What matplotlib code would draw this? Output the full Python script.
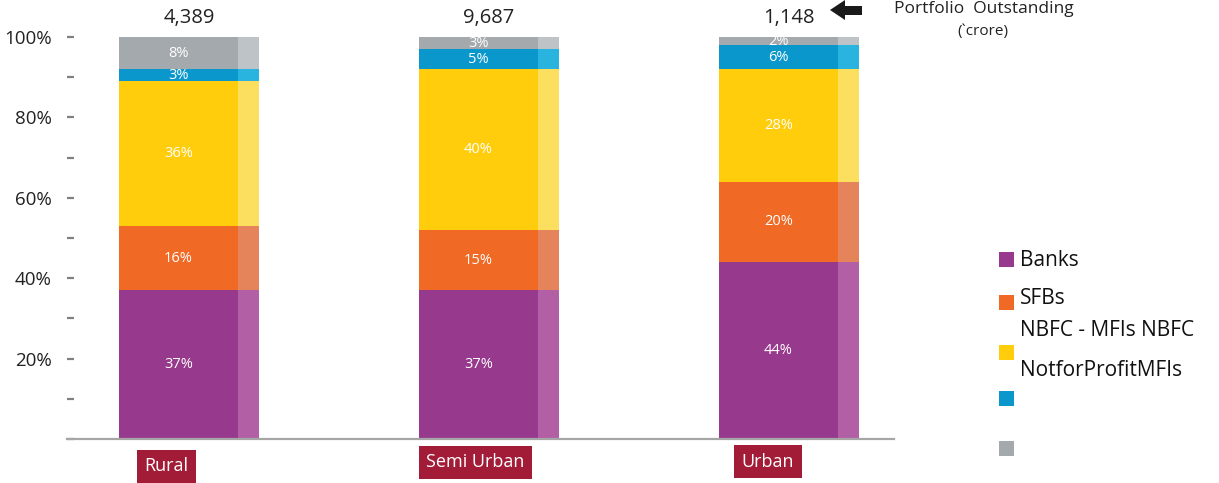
import matplotlib
matplotlib.use("Agg")
import matplotlib.pyplot as plt
from matplotlib.patches import Rectangle, Polygon
from matplotlib import transforms
import numpy as np

plt.rcParams['font.family'] = ['Open Sans', 'DejaVu Sans']

# data
categories = ['Rural', 'Semi Urban', 'Urban']
totals = ['4,389', '9,687', '1,148']
series = ['Banks', 'SFBs', 'NBFC - MFIs NBFC', 'NotforProfitMFIs', '']
banks = [37, 37, 44]
sfbs = [16, 15, 20]
nbfc_mfis = [36, 40, 28]
nbfc = [3, 5, 6]
not_for_profit = [8, 3, 2]

colors = ['#97398C', '#F06A25', '#FFCD0C', '#0A97CC', '#A4A9AE']
strip_colors = ['#B35FA6', '#E5835A', '#FDDF5F', '#29B4E0', '#BDC3C6']

W, H = 1219, 483
fig = plt.figure(figsize=(W / 100, H / 100), dpi=100)


def fx(px):
    return px / W


def fy(py):
    return 1 - py / H


ax = fig.add_axes([fx(67), fy(439), fx(894) - fx(67), fy(37) - fy(439)])

stack = [banks, sfbs, nbfc_mfis, nbfc, not_for_profit]
x = np.arange(len(categories))
main_w = 119 / 300
strip_w = 21 / 300
left = x - 70 / 300
bottom = np.zeros(len(categories))
for vals, c, sc in zip(stack, colors, strip_colors):
    v = np.array(vals, dtype=float)
    ax.bar(left, v, width=main_w, bottom=bottom, color=c, align='edge', linewidth=0)
    ax.bar(left + main_w, v, width=strip_w, bottom=bottom, color=sc, align='edge', linewidth=0)
    for xi, b, val in zip(left, bottom, v):
        ax.text(xi + main_w / 2, b + val / 2, f'{int(val)}%', ha='center', va='center',
                color='white', fontsize=10.5)
    bottom += v

ax.set_xlim(-122 / 300, 705 / 300)
ax.set_ylim(0, 100)

ticks = np.arange(0, 101, 10)
ax.set_yticks(ticks)
ax.set_yticklabels([f'{t}%' if t % 20 == 0 and t > 0 else '' for t in ticks], fontsize=13.5,
                   color='#222222')
ax.tick_params(axis='y', direction='in', length=5, width=1.6, color='#808080', pad=11)
ax.set_xticks([])
for s in ['top', 'right', 'left']:
    ax.spines[s].set_visible(False)
ax.spines['bottom'].set_color('#A6A6A6')
ax.spines['bottom'].set_linewidth(1.6)

trans = transforms.blended_transform_factory(ax.transData, ax.transAxes)
for xi, t in zip(x, totals):
    ax.text(xi, 1.047, t, transform=trans, ha='center', va='center', fontsize=14.5,
            color='#222222')

box_offsets = [-0.075, -0.045, -0.07]
box_y = [-0.068, -0.058, -0.056]
for xi, cat, off, by in zip(x, categories, box_offsets, box_y):
    ax.text(xi + off, by, cat, transform=trans, ha='center', va='center', fontsize=13,
            color='white',
            bbox=dict(boxstyle='square,pad=0.42', fc='#A21C37', ec='none'))

# arrow and annotation
arrow_px = [(830, 10), (845, 0), (845, 6), (862, 6), (862, 15), (845, 15), (845, 20)]
fig.add_artist(Polygon([(fx(a), fy(b)) for a, b in arrow_px], closed=True,
                       transform=fig.transFigure, fc='#1a1a1a', ec='none'))
fig.text(fx(984), fy(9), 'Portfolio  Outstanding', ha='center', va='center',
         fontsize=12.5, color='#222222')
fig.text(fx(983), fy(32), '(`crore)', ha='center', va='center', fontsize=11,
         color='#222222')

# legend
square_y = [259, 302, 352, 398, 448]
text_y = [260, 298, 331, 371]
for c, sy in zip(colors, square_y):
    fig.add_artist(Rectangle((fx(999), fy(sy + 7.5)), fx(15), 15 / H,
                             transform=fig.transFigure, fc=c, ec='none'))
for lab, ty in zip(series[:4], text_y):
    fig.text(fx(1020), fy(ty), lab, ha='left', va='center', fontsize=15, color='#111111')

fig.savefig('out.png', dpi=100)
